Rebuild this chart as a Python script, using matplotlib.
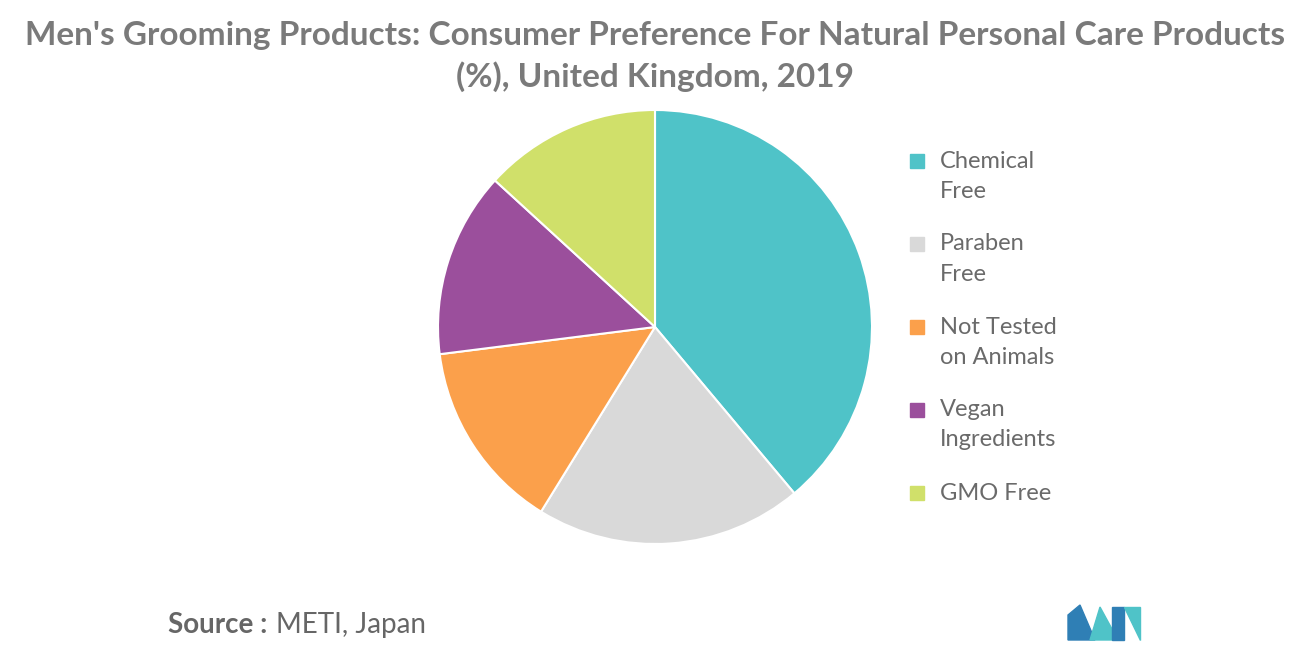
import matplotlib
matplotlib.use("Agg")
import matplotlib.pyplot as plt
from matplotlib.patches import Polygon

categories = ["Chemical\nFree", "Paraben\nFree", "Not Tested\non Animals", "Vegan\nIngredients", "GMO Free"]
values = [38.9, 19.9, 14.2, 13.8, 13.2]
colors = ["#4FC3C8", "#D9D9D9", "#FBA04B", "#9B4F9C", "#D0E06A"]

W, H = 1310, 655
fig = plt.figure(figsize=(13.1, 6.55), dpi=100)
fig.patch.set_facecolor("white")
cx, cy, r = 655, 327, 217
ax = fig.add_axes([(cx - r) / W, (H - cy - r) / H, 2 * r / W, 2 * r / H])
ax.pie(values, colors=colors, startangle=90, counterclock=False,
       wedgeprops=dict(edgecolor="white", linewidth=1.5))
ax.set_xlim(-1, 1)
ax.set_ylim(-1, 1)
ax.set_aspect("equal")
ax.axis("off")

fig.text(0.5, 1 - 35 / H, "Men's Grooming Products: Consumer Preference For Natural Personal Care Products",
         ha="center", va="center", fontsize=24, color="#7a7a7a", fontweight="bold", family="Lato")
fig.text(0.5, 1 - 77 / H, "(%), United Kingdom, 2019",
         ha="center", va="center", fontsize=24, color="#7a7a7a", fontweight="bold", family="Lato")

first_line_y = [161, 244, 327, 410, 493]
for cat, col, y in zip(categories, colors, first_line_y):
    lines = cat.split("\n")
    fig.patches.append(plt.Rectangle((910 / W, 1 - (y + 7) / H), 14 / W, 14 / H,
                                     transform=fig.transFigure, color=col, figure=fig))
    for i, ln in enumerate(lines):
        fig.text(940 / W, 1 - (y + i * 30) / H, ln, ha="left", va="center",
                 fontsize=17, color="#6a6a6a", family="Lato")

fig.text(168 / W, 1 - 625 / H, "Source :", ha="left", va="center", fontsize=20,
         color="#666666", fontweight="bold", family="Lato")
fig.text(276 / W, 1 - 625 / H, "METI, Japan", ha="left", va="center", fontsize=20,
         color="#666666", family="Lato")

def px(pts):
    return [(x / W, 1 - y / H) for x, y in pts]
for pts, c in [
    ([(1068, 640), (1068, 615), (1080, 605), (1095, 640)], "#2F7FB5"),
    ([(1090, 640), (1100, 607), (1118, 640)], "#4FC3C8"),
    ([(1112, 640), (1112, 607), (1124, 607), (1124, 640)], "#2F7FB5"),
    ([(1124, 607), (1140, 607), (1140, 640)], "#4FC3C8"),
]:
    fig.patches.append(Polygon(px(pts), closed=True, transform=fig.transFigure, color=c, figure=fig))

fig.savefig("out.png", dpi=100)
